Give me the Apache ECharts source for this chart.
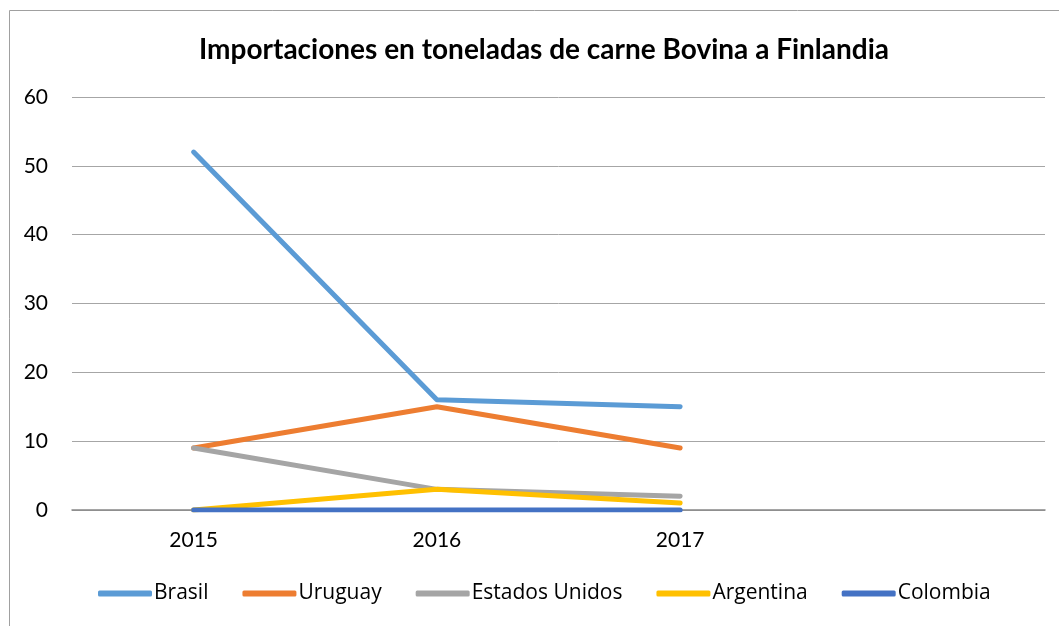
<!DOCTYPE html>
<html><head><meta charset="utf-8">
<script src="https://cdn.jsdelivr.net/npm/echarts@6/dist/echarts.min.js"></script>
<style>html,body{margin:0;padding:0;background:#fff}#c{width:1059px;height:626px}</style>
</head><body><div id="c"></div>
<script>
const categories = ['2015', '2016', '2017', ''];
const brasil = [52, 16, 15, null];
const uruguay = [9, 15, 9, null];
const estadosUnidos = [9, 3, 2, null];
const argentina = [0, 3, 1, null];
const colombia = [0, 0, 0, null];
const yTicks = [0, 10, 20, 30, 40, 50, 60];

const FONT = 'Lato, "Open Sans", sans-serif';
const chart = echarts.init(document.getElementById('c'));
function mk(name, data, color) {
  return { name, type: 'line', data, symbol: 'none', lineStyle: { width: 5, color, cap: 'round', join: 'round' }, itemStyle: { color }, connectNulls: false };
}
chart.setOption({
  animation: false,
  graphic: [{ type: 'rect', shape: { x: 9.5, y: 10.5, width: 1060, height: 640 }, style: { fill: 'none', stroke: '#a0a0a0', lineWidth: 1 }, silent: true }],
  title: { text: 'Importaciones en toneladas de carne Bovina a Finlandia', left: 194, top: 31,
    textStyle: { fontFamily: FONT, fontSize: 28, fontWeight: 'bold', color: '#000' } },
  grid: { left: 72, right: 14, top: 97, bottom: 116, containLabel: false },
  legend: { bottom: 17, left: 93, itemWidth: 54, itemHeight: 6, itemGap: 34, icon: 'roundRect',
    textStyle: { fontFamily: '"Open Sans", Lato, sans-serif', fontSize: 21, color: '#000', padding: [0, 0, 0, -3] },
    data: ['Brasil', 'Uruguay', 'Estados Unidos', 'Argentina', 'Colombia'] },
  xAxis: { type: 'category', data: categories, boundaryGap: true,
    axisLine: { lineStyle: { color: '#888', width: 1.5 } }, axisTick: { show: false },
    axisLabel: { fontFamily: FONT, fontSize: 21, color: '#000', margin: 20 } },
  yAxis: { type: 'value', min: 0, max: 60, interval: 10,
    axisLine: { show: false }, axisTick: { show: false },
    splitLine: { lineStyle: { color: '#a6a6a6', width: 1 } },
    axisLabel: { fontFamily: FONT, fontSize: 21, color: '#000', margin: 24,
      formatter: v => yTicks.includes(v) ? String(v) : '' } },
  series: [
    mk('Brasil', brasil, '#5B9BD5'),
    mk('Uruguay', uruguay, '#ED7D31'),
    mk('Estados Unidos', estadosUnidos, '#A5A5A5'),
    mk('Argentina', argentina, '#FFC000'),
    mk('Colombia', colombia, '#4472C4')
  ]
});
</script></body></html>
